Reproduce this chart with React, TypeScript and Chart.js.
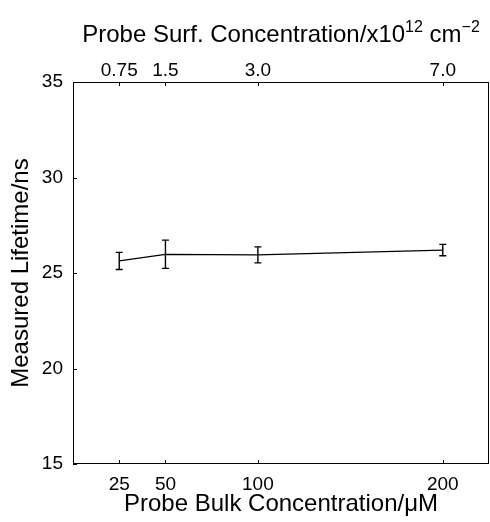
import React, { useEffect, useRef } from "react";
import { Chart, registerables } from "chart.js";

Chart.register(...registerables);

// ---- Data ----
const bulkConc = [25, 50, 100, 200];
const lifetime = [25.63, 25.98, 25.95, 26.2];
const lifetimeErr = [0.45, 0.74, 0.42, 0.3];
const bottomTicks = [25, 50, 100, 200];
const topTickLabels = ["0.75", "1.5", "3.0", "7.0"];
const yTicks = [15, 20, 25, 30, 35];

const FONT = "'Liberation Sans', Arial, Helvetica, sans-serif";
const TICK_SIZE = 19;
const TITLE_SIZE = 24;

const errorBarPlugin = {
  id: "errorBars",
  afterDatasetsDraw(chart: any) {
    const { ctx } = chart;
    const xs = chart.scales.x;
    const ys = chart.scales.y;
    ctx.save();
    ctx.strokeStyle = "#000";
    ctx.lineWidth = 1.4;
    const cap = 3.5;
    for (let i = 0; i < bulkConc.length; i++) {
      const px = xs.getPixelForValue(bulkConc[i]);
      const pt = ys.getPixelForValue(lifetime[i] + lifetimeErr[i]);
      const pb = ys.getPixelForValue(lifetime[i] - lifetimeErr[i]);
      ctx.beginPath();
      ctx.moveTo(px, pt);
      ctx.lineTo(px, pb);
      ctx.moveTo(px - cap, pt);
      ctx.lineTo(px + cap, pt);
      ctx.moveTo(px - cap, pb);
      ctx.lineTo(px + cap, pb);
      ctx.stroke();
    }
    ctx.restore();
  },
};

const framePlugin = {
  id: "frame",
  afterDraw(chart: any) {
    const { ctx, chartArea } = chart;
    const { left, right, top, bottom } = chartArea;
    const xs = chart.scales.x;
    const ys = chart.scales.y;
    ctx.save();
    ctx.strokeStyle = "#000";
    ctx.lineWidth = 1;
    ctx.strokeRect(left + 0.5, top + 0.5, right - left - 1, bottom - top - 1);
    const tl = 4;
    ctx.beginPath();
    for (const v of bottomTicks) {
      const px = Math.round(xs.getPixelForValue(v)) + 0.5;
      ctx.moveTo(px, bottom);
      ctx.lineTo(px, bottom - tl);
      ctx.moveTo(px, top);
      ctx.lineTo(px, top + tl);
    }
    for (const v of yTicks) {
      const py = Math.round(ys.getPixelForValue(v)) + 0.5;
      ctx.moveTo(left, py);
      ctx.lineTo(left + tl, py);
    }
    ctx.stroke();

    // Top title with superscripts
    const parts: { t: string; sup: boolean }[] = [
      { t: "Probe Surf. Concentration/x10", sup: false },
      { t: "12", sup: true },
      { t: " cm", sup: false },
      { t: "\u22122", sup: true },
    ];
    const mainFont = `${TITLE_SIZE}px ${FONT}`;
    const supFont = `${Math.round(TITLE_SIZE * 0.68)}px ${FONT}`;
    let total = 0;
    const widths: number[] = [];
    for (const p of parts) {
      ctx.font = p.sup ? supFont : mainFont;
      const w = ctx.measureText(p.t).width;
      widths.push(w);
      total += w;
    }
    let x = (left + right) / 2 - total / 2;
    const baseline = 42;
    ctx.fillStyle = "#000";
    ctx.textBaseline = "alphabetic";
    ctx.textAlign = "left";
    parts.forEach((p, i) => {
      ctx.font = p.sup ? supFont : mainFont;
      ctx.fillText(p.t, x, p.sup ? baseline - 10 : baseline);
      x += widths[i];
    });
    ctx.restore();
  },
};

export default function App() {
  const ref = useRef<HTMLCanvasElement | null>(null);

  useEffect(() => {
    if (!ref.current) return;
    const chart = new Chart(ref.current, {
      type: "line",
      data: {
        datasets: [
          {
            data: bulkConc.map((x, i) => ({ x, y: lifetime[i] })),
            borderColor: "#000",
            borderWidth: 1.2,
            pointRadius: 0,
            fill: false,
            tension: 0,
          },
        ],
      },
      options: {
        responsive: false,
        animation: false,
        layout: { padding: { left: 0, right: 1, top: 0, bottom: 0 } },
        plugins: {
          legend: { display: false },
          tooltip: { enabled: false },
        },
        scales: {
          x: {
            type: "linear",
            position: "bottom",
            min: 0,
            max: 225,
            afterBuildTicks: (s: any) => {
              s.ticks = bottomTicks.map((v) => ({ value: v }));
            },
            afterFit: (s: any) => {
              s.height = 58;
            },
            grid: { display: false, drawTicks: false },
            border: { display: false },
            ticks: {
              color: "#000",
              font: { family: FONT, size: TICK_SIZE },
              padding: 9,
              maxRotation: 0,
              autoSkip: false,
            },
            title: {
              display: true,
              text: "Probe Bulk Concentration/\u03BCM",
              color: "#000",
              font: { family: FONT, size: TITLE_SIZE },
              padding: { top: 0, bottom: 3 },
            },
          },
          x2: {
            type: "linear",
            position: "top",
            min: 0,
            max: 225,
            afterBuildTicks: (s: any) => {
              s.ticks = bottomTicks.map((v) => ({ value: v }));
            },
            afterFit: (s: any) => {
              s.height = 82;
            },
            grid: { display: false, drawTicks: false },
            border: { display: false },
            ticks: {
              color: "#000",
              font: { family: FONT, size: TICK_SIZE },
              padding: 0,
              maxRotation: 0,
              autoSkip: false,
              callback: (_v: any, i: number) => topTickLabels[i],
            },
          },
          y: {
            type: "linear",
            position: "left",
            min: 15,
            max: 35,
            afterBuildTicks: (s: any) => {
              s.ticks = yTicks.map((v) => ({ value: v }));
            },
            afterFit: (s: any) => {
              s.width = 73;
            },
            grid: { display: false, drawTicks: false },
            border: { display: false },
            ticks: {
              color: "#000",
              font: { family: FONT, size: TICK_SIZE },
              padding: 10,
              autoSkip: false,
            },
            title: {
              display: true,
              text: "Measured Lifetime/ns",
              color: "#000",
              font: { family: FONT, size: TITLE_SIZE },
              padding: { top: 7, bottom: 0 },
            },
          },
        },
      },
      plugins: [errorBarPlugin, framePlugin],
    } as any);
    return () => chart.destroy();
  }, []);

  return (
    <div
      style={{
        position: "fixed",
        left: 0,
        top: 0,
        width: 490,
        height: 522,
        background: "#fff",
      }}
    >
      <canvas ref={ref} width={490} height={522} style={{ display: "block" }} />
    </div>
  );
}
